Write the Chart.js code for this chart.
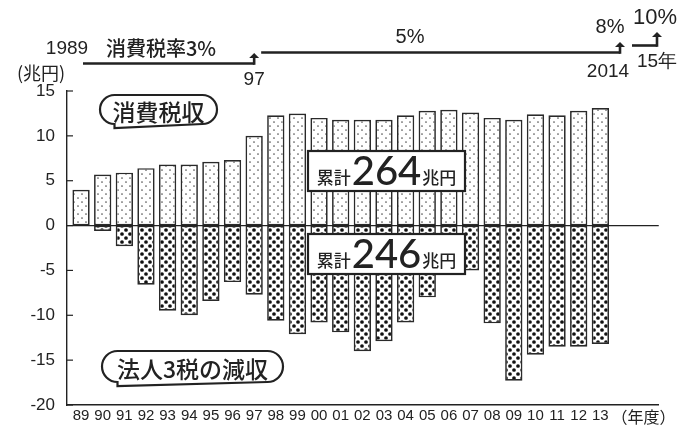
<!DOCTYPE html>
<html>
<head>
<meta charset="utf-8">
<script src="https://cdn.jsdelivr.net/npm/chart.js@4/dist/chart.umd.min.js"></script>
<style>
  html, body { margin: 0; padding: 0; background: #fff; }
  #wrap { width: 678px; height: 428px; position: relative; }
</style>
</head>
<body>
<div id="wrap"><canvas id="chart"></canvas></div>
<script>
// fiscal years 1989 - 2013
const years = ["89", "90", "91", "92", "93", "94", "95", "96", "97", "98", "99", "00",
    "01", "02", "03", "04", "05", "06", "07", "08", "09", "10", "11", "12", "13"];

// consumption tax revenue (trillion yen)
const consumptionTax = [4.0, 5.7, 5.9, 6.4, 6.8, 6.8, 7.1, 7.3, 10.0, 12.3, 12.5, 12.0,
    11.8, 11.8, 11.8, 12.3, 12.8, 12.9, 12.6, 12.0, 11.8, 12.4, 12.3, 12.8, 13.1];

// decrease of the three corporate taxes (trillion yen)
const corporateCut = [0, -0.6, -2.3, -6.6, -9.5, -10.0, -8.4, -6.3, -7.7, -10.6, -12.1, -10.8,
    -11.9, -14.0, -12.9, -10.8, -8.0, -5.2, -5.0, -10.9, -17.3, -14.4, -13.5, -13.5, -13.2];

const yTicks = [15, 10, 5, 0, -5, -10, -15, -20];

const numFont = "'Liberation Sans Narrow', 'Liberation Sans', Arial, sans-serif";
const jpFont = "'Noto Sans CJK JP', 'Noto Sans', sans-serif";
const ink = "#222";

function makePattern(w, h, draw) {
    const c = document.createElement("canvas");
    c.width = w;
    c.height = h;
    const g = c.getContext("2d");
    g.fillStyle = "#fff";
    g.fillRect(0, 0, w, h);
    draw(g);
    return g.createPattern(c, "repeat");
}

function dot(g, x, y, r) {
    g.beginPath();
    g.arc(x, y, r, 0, Math.PI * 2);
    g.fill();
}

const lightDots = makePattern(8, 8, g => {
    g.fillStyle = "#555";
    dot(g, 2, 2, 0.85);
    dot(g, 6, 6, 0.85);
});

const heavyDots = makePattern(8, 8, g => {
    g.fillStyle = "#111";
    dot(g, 2, 2, 1.85);
    dot(g, 6, 6, 1.85);
});

function roundBox(ctx, x, y, w, h, r) {
    ctx.beginPath();
    ctx.moveTo(x + r, y);
    ctx.lineTo(x + w - r, y);
    ctx.arc(x + w - r, y + r, r, -Math.PI / 2, Math.PI / 2);
    ctx.lineTo(x + r, y + h);
    ctx.arc(x + r, y + r, r, Math.PI / 2, Math.PI * 1.5);
    ctx.closePath();
}

function arrowUp(ctx, x, yBase, yTip) {
    ctx.beginPath();
    ctx.moveTo(x, yBase);
    ctx.lineTo(x, yTip + 4);
    ctx.stroke();
    ctx.beginPath();
    ctx.moveTo(x, yTip);
    ctx.lineTo(x - 5, yTip + 5);
    ctx.lineTo(x + 5, yTip + 5);
    ctx.closePath();
    ctx.fill();
}

function totalBox(ctx, x, y, w, h, big) {
    ctx.save();
    ctx.fillStyle = "#fff";
    ctx.fillRect(x, y, w, h);
    ctx.lineWidth = 2.2;
    ctx.strokeStyle = ink;
    ctx.strokeRect(x, y, w, h);
    ctx.fillStyle = ink;
    ctx.textBaseline = "alphabetic";
    const small = "500 17px " + jpFont;
    const large = "500 40px 'Lato', 'Open Sans', sans-serif";
    ctx.font = small;
    const w1 = ctx.measureText("累計").width;
    const w3 = ctx.measureText("兆円").width;
    ctx.font = large;
    const w2 = ctx.measureText(big).width;
    let cx = x + (w - (w1 + w2 + w3 + 2)) / 2;
    const base = y + h / 2 + 14;
    ctx.font = small;
    ctx.fillText("累計", cx, base - 1);
    cx += w1 + 1;
    ctx.font = large;
    ctx.fillText(big, cx, base);
    cx += w2 + 1;
    ctx.font = small;
    ctx.fillText("兆円", cx, base - 1);
    ctx.restore();
}

function pillLabel(ctx, x, y, w, h, text) {
    ctx.save();
    ctx.fillStyle = "#fff";
    roundBox(ctx, x, y, w, h, h / 2 - 2);
    ctx.fill();
    ctx.lineWidth = 2.2;
    ctx.strokeStyle = ink;
    ctx.stroke();
    ctx.fillStyle = ink;
    ctx.font = "500 23px " + jpFont;
    ctx.textAlign = "center";
    ctx.textBaseline = "middle";
    ctx.fillText(text, x + w / 2, y + h / 2 + 1);
    ctx.restore();
}

const overlay = {
    id: "overlay",
    afterDraw(chart) {
        const ctx = chart.ctx;
        const x = chart.scales.x;
        const y = chart.scales.y;
        const area = chart.chartArea;

        ctx.save();
        // zero line
        ctx.strokeStyle = ink;
        ctx.lineWidth = 1.2;
        ctx.beginPath();
        ctx.moveTo(area.left, y.getPixelForValue(0));
        ctx.lineTo(area.right, y.getPixelForValue(0));
        ctx.stroke();

        // inward tick marks
        yTicks.forEach(v => {
            const py = y.getPixelForValue(v);
            ctx.beginPath();
            ctx.moveTo(area.left, py);
            ctx.lineTo(area.left + 6, py);
            ctx.stroke();
        });

        // unit label
        ctx.fillStyle = ink;
        ctx.font = "400 18px " + jpFont;
        ctx.textAlign = "left";
        ctx.textBaseline = "middle";
        ctx.fillText("(兆円)", 17, 73);

        // tax rate timeline
        const x97 = x.getPixelForValue(8);
        const x14 = 620;
        const x15 = 657;
        ctx.lineWidth = 2.6;
        ctx.strokeStyle = ink;
        ctx.beginPath();
        ctx.moveTo(83, 63.5);
        ctx.lineTo(x97, 63.5);
        ctx.stroke();
        arrowUp(ctx, x97, 64.8, 53);
        ctx.beginPath();
        ctx.moveTo(x97 + 7, 52.5);
        ctx.lineTo(x14, 52.5);
        ctx.stroke();
        arrowUp(ctx, x14, 53.8, 42);
        ctx.beginPath();
        ctx.moveTo(632, 45.5);
        ctx.lineTo(x15, 45.5);
        ctx.stroke();
        arrowUp(ctx, x15, 46.8, 32);

        ctx.textAlign = "center";
        ctx.font = "400 19px " + numFont;
        ctx.fillText("1989", 67, 49);
        ctx.fillText("97", x97, 80);
        ctx.fillText("2014", 608, 72);
        ctx.fillText("15年", 657, 62);
        ctx.font = "500 20px " + jpFont;
        ctx.fillText("消費税率3%", 161, 48);
        ctx.font = "500 20px 'Liberation Sans', sans-serif";
        ctx.fillText("5%", 410, 37);
        ctx.fillText("8%", 610, 27);
        ctx.font = "500 22px 'Liberation Sans', sans-serif";
        ctx.fillText("10%", 655, 18);
        ctx.restore();

        pillLabel(ctx, 100, 95, 117, 33, "消費税収");
        pillLabel(ctx, 102, 351, 181, 35, "法人3税の減収");
        totalBox(ctx, 308, 151, 157, 40, "264");
        totalBox(ctx, 308, 234, 157, 40, "246");
    }
};

const chart = new Chart(document.getElementById("chart").getContext("2d"), {
    type: "bar",
    data: {
        datasets: [{
            label: "消費税収",
            data: consumptionTax.map((v, i) => ({ x: i, y: v })),
            backgroundColor: lightDots
        }, {
            label: "法人3税の減収",
            data: corporateCut.map((v, i) => ({ x: i, y: v })),
            backgroundColor: heavyDots
        }]
    },
    options: {
        responsive: true,
        maintainAspectRatio: false,
        animation: false,
        devicePixelRatio: 1,
        layout: {
            padding: { top: 91, right: 15, left: 0, bottom: 0 }
        },
        datasets: {
            bar: {
                grouped: false,
                borderColor: "#2a2a2a",
                borderWidth: 1.7,
                borderSkipped: false,
                barPercentage: 0.8,
                categoryPercentage: 1
            }
        },
        plugins: {
            legend: { display: false },
            tooltip: { enabled: false }
        },
        scales: {
            x: {
                type: "linear",
                offset: false,
                min: -0.65,
                max: 26.7,
                afterBuildTicks: scale => {
                    scale.ticks = years.map((y, i) => ({ value: i }))
                        .concat([{ value: 26 }]);
                },
                afterFit: scale => { scale.height = 23; },
                grid: { display: false, drawTicks: false },
                border: { color: ink, width: 1.4 },
                ticks: {
                    autoSkip: false,
                    maxRotation: 0,
                    padding: 2,
                    color: ink,
                    font: c => c.tick && c.tick.value === 26
                        ? { family: jpFont, size: 16 }
                        : { family: numFont, size: 15 },
                    callback: v => v === 26 ? "（年度）" : (years[v] || "")
                }
            },
            y: {
                min: -20,
                max: 15,
                afterFit: scale => { scale.width = 67; },
                grid: { display: false, drawTicks: false },
                border: { color: ink, width: 1.4 },
                ticks: {
                    stepSize: 5,
                    padding: 12,
                    color: ink,
                    font: { family: "'Liberation Sans', Arial, sans-serif", size: 17 }
                }
            }
        }
    },
    plugins: [overlay]
});
</script>
</body>
</html>
